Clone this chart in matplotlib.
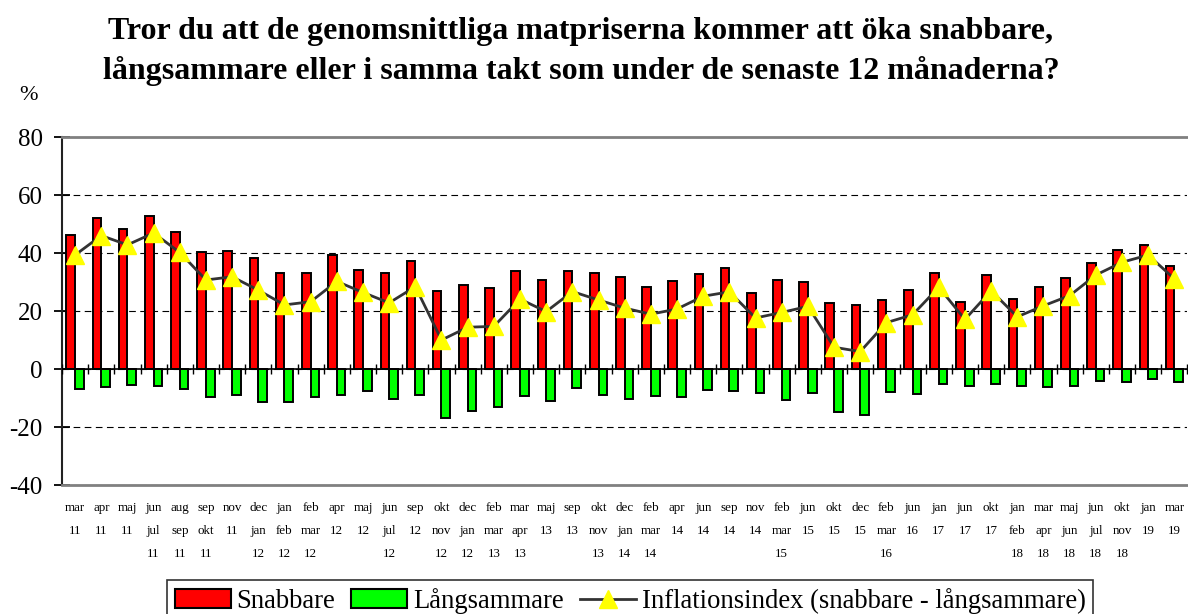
import matplotlib
matplotlib.use('Agg')
import matplotlib.pyplot as plt
import numpy as np
from matplotlib.lines import Line2D
from matplotlib.patches import Patch

labels = ["mar\n11", "apr\n11", "maj\n11", "jun\njul\n11", "aug\nsep\n11", "sep\nokt\n11",
          "nov\n11", "dec\njan\n12", "jan\nfeb\n12", "feb\nmar\n12", "apr\n12", "maj\n12",
          "jun\njul\n12", "sep\n12", "okt\nnov\n12", "dec\njan\n12", "feb\nmar\n13",
          "mar\napr\n13", "maj\n13", "sep\n13", "okt\nnov\n13", "dec\njan\n14", "feb\nmar\n14",
          "apr\n14", "jun\n14", "sep\n14", "nov\n14", "feb\nmar\n15", "jun\n15", "okt\n15",
          "dec\n15", "feb\nmar\n16", "jun\n16", "jan\n17", "jun\n17", "okt\n17",
          "jan\nfeb\n18", "mar\napr\n18", "maj\njun\n18", "jun\njul\n18", "okt\nnov\n18",
          "jan\n19", "mar\n19"]

snabbare = [46.2, 52.0, 48.2, 52.8, 47.1, 40.2, 40.6, 38.4, 33.0, 33.1, 39.3, 34.1, 33.1, 37.2,
            26.8, 29.1, 27.9, 33.7, 30.7, 33.7, 33.0, 31.6, 28.2, 30.3, 32.6, 34.7, 26.3, 30.6,
            30.0, 22.6, 22.0, 23.7, 27.4, 33.0, 23.1, 32.3, 24.0, 28.2, 31.4, 36.6, 41.1, 42.8, 35.4]

langsammare = [-6.9, -6.3, -5.4, -6.0, -7.0, -9.8, -8.9, -11.3, -11.3, -9.8, -9.0, -7.6, -10.2, -8.9,
               -17.0, -14.5, -13.0, -9.4, -10.9, -6.7, -9.0, -10.2, -9.2, -9.5, -7.2, -7.7, -8.4, -10.7,
               -8.4, -14.9, -15.9, -7.8, -8.6, -5.2, -5.7, -5.2, -5.9, -6.3, -5.9, -4.0, -4.4, -3.6, -4.4]

inflationsindex = [39.3, 46.0, 42.8, 46.9, 40.2, 30.7, 31.8, 27.2, 22.1, 23.2, 30.2, 26.4, 22.8, 28.4,
                   10.0, 14.4, 14.7, 24.1, 19.8, 26.7, 23.8, 21.0, 18.9, 20.7, 25.1, 26.6, 17.6, 19.5,
                   21.6, 7.5, 6.0, 16.0, 18.7, 28.2, 17.1, 27.0, 18.0, 21.8, 25.3, 32.4, 36.8, 39.3, 31.1]

title_lines = ["Tror du att de genomsnittliga matpriserna kommer att öka snabbare,",
               "långsammare eller i samma takt som under de senaste 12 månaderna?"]
legend_labels = ["Snabbare", "Långsammare", "Inflationsindex (snabbare - långsammare)"]

plt.rcParams['font.family'] = ['Liberation Serif', 'DejaVu Serif']
plt.rcParams['axes.unicode_minus'] = False

W, H = 1188, 614
fig = plt.figure(figsize=(W / 100, H / 100), dpi=100)
ax = fig.add_axes([62 / W, 1 - 485 / H, 1 - 62 / W - 0.0005, 348 / H])

n = len(labels)
x = np.arange(n)
w = 0.33

ax.bar(x - w, snabbare, width=w, align='edge', color='#ff0000', edgecolor='black',
       linewidth=1.4, zorder=3)
ax.bar(x, langsammare, width=w, align='edge', color='#00ff00', edgecolor='black',
       linewidth=1.4, zorder=3)
ax.axhline(0, color='black', lw=1.2, zorder=4)
bounds = np.arange(n + 1) - 0.5
ax.plot(bounds, np.zeros_like(bounds), ls='none', marker='|', ms=7, mew=1.0,
        color='black', zorder=4)
ax.plot(x, inflationsindex, color='#333333', lw=2.0, marker='^', ms=13,
        mfc='#ffff00', mec='#ffff00', zorder=5)

ax.set_xlim(-0.5, n - 0.5)
ax.set_ylim(-40, 80)
ax.set_yticks(np.arange(-40, 81, 20))
ax.grid(axis='y', linestyle=(0, (6, 4)), color='black', lw=0.8, zorder=1)
ax.set_axisbelow(True)

ax.set_xticks(x)
ax.set_xticklabels(labels, fontsize=9.4, linespacing=2.25)
ax.tick_params(axis='x', length=0, pad=12)
ax.tick_params(axis='y', direction='inout', length=12, width=1.3, labelsize=18, pad=8)

for s in ['top', 'bottom']:
    ax.spines[s].set_color('#808080')
    ax.spines[s].set_linewidth(2)
ax.spines['right'].set_visible(False)
ax.spines['left'].set_color('#222222')
ax.spines['left'].set_linewidth(1.5)

fig.text(581 / W, 1 - 39 / H, title_lines[0], ha='center', va='baseline',
         fontsize=23, fontweight='bold')
fig.text(581 / W, 1 - 79 / H, title_lines[1], ha='center', va='baseline',
         fontsize=23, fontweight='bold')
fig.text(28 / W, 1 - 95 / H, '%', ha='center', va='center', fontsize=16)

handles = [Patch(facecolor='#ff0000', edgecolor='black', linewidth=1.5),
           Patch(facecolor='#00ff00', edgecolor='black', linewidth=1.5),
           Line2D([], [], color='#333333', lw=2, marker='^', ms=13,
                  mfc='#ffff00', mec='#ffff00')]
leg = fig.legend(handles, legend_labels, loc='upper center',
                 bbox_to_anchor=(630 / W, 1 - 580 / H), ncol=3, frameon=True,
                 fancybox=False, edgecolor='black', fontsize=19.2, handlelength=2.1,
                 handleheight=0.7, columnspacing=0.6, handletextpad=0.22, borderpad=0.3,
                 borderaxespad=0)
leg.get_frame().set_linewidth(1.2)

fig.savefig('out.png', dpi=100)
